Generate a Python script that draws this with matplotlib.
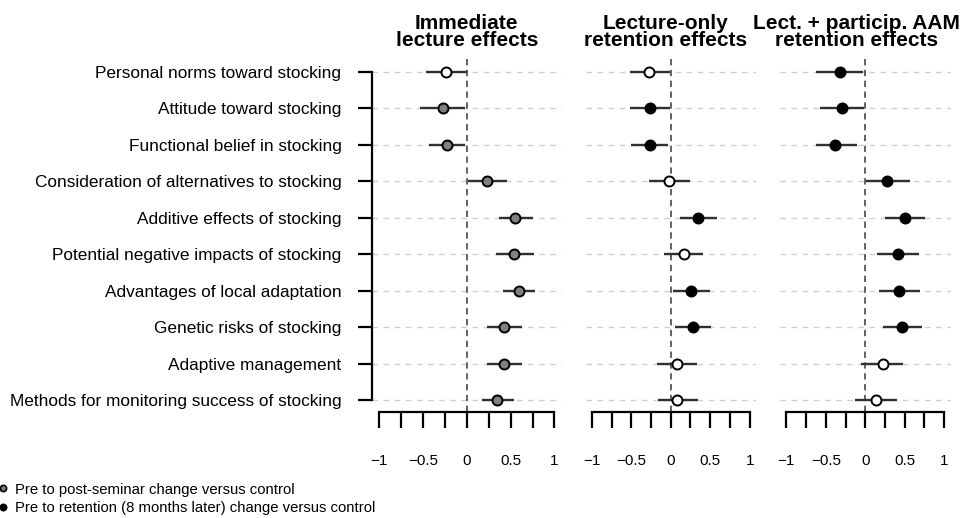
import matplotlib
matplotlib.use("Agg")
import matplotlib.pyplot as plt
from matplotlib.lines import Line2D

plt.rcParams['font.family'] = ['Liberation Sans', 'DejaVu Sans']

# row labels, top to bottom
items = [
    "Personal norms toward stocking",
    "Attitude toward stocking",
    "Functional belief in stocking",
    "Consideration of alternatives to stocking",
    "Additive effects of stocking",
    "Potential negative impacts of stocking",
    "Advantages of local adaptation",
    "Genetic risks of stocking",
    "Adaptive management",
    "Methods for monitoring success of stocking",
]

titles = [
    "Immediate\nlecture effects",
    "Lecture-only\nretention effects",
    "Lect. + particip. AAM\nretention effects",
]

# panel 1: immediate lecture effects
imm_est = [-0.24, -0.27, -0.22, 0.23, 0.55, 0.54, 0.59, 0.43, 0.43, 0.35]
imm_lo = [-0.47, -0.53, -0.43, 0.01, 0.37, 0.33, 0.41, 0.23, 0.23, 0.17]
imm_hi = [0.00, -0.02, -0.02, 0.46, 0.75, 0.77, 0.78, 0.63, 0.63, 0.54]
imm_sig = [0, 1, 1, 1, 1, 1, 1, 1, 1, 1]

# panel 2: lecture-only retention effects
lec_est = [-0.27, -0.26, -0.26, -0.02, 0.35, 0.17, 0.26, 0.28, 0.08, 0.08]
lec_lo = [-0.52, -0.52, -0.50, -0.28, 0.12, -0.08, 0.03, 0.05, -0.17, -0.16]
lec_hi = [-0.01, -0.01, -0.03, 0.24, 0.59, 0.41, 0.50, 0.51, 0.33, 0.34]
lec_sig = [0, 1, 1, 0, 1, 0, 1, 1, 0, 0]

# panel 3: lecture + participatory AAM retention effects
aam_est = [-0.32, -0.30, -0.38, 0.28, 0.50, 0.42, 0.43, 0.47, 0.22, 0.14]
aam_lo = [-0.62, -0.57, -0.62, 0.01, 0.25, 0.15, 0.18, 0.23, -0.05, -0.13]
aam_hi = [-0.03, -0.02, -0.11, 0.57, 0.76, 0.68, 0.69, 0.72, 0.48, 0.40]
aam_sig = [1, 1, 1, 1, 1, 1, 1, 1, 0, 0]

panels = [
    (imm_est, imm_lo, imm_hi, imm_sig, '#808080'),
    (lec_est, lec_lo, lec_hi, lec_sig, 'black'),
    (aam_est, aam_lo, aam_hi, aam_sig, 'black'),
]

xticks = [-1, -0.75, -0.5, -0.25, 0, 0.25, 0.5, 0.75, 1]
xticklabels = ['\u22121', '', '\u22120.5', '', '0', '', '0.5', '', '1']

W, H = 964, 518
fig = plt.figure(figsize=(W / 100, H / 100), dpi=100)

# axes boxes in pixels: left, right, title centre (axes fraction)
boxes = [(372, 561.5, 0.5), (585.5, 756, 0.47), (780, 950.5, 0.45)]
top_px, bot_px = 59, 412
rows = list(range(1, len(items) + 1))

for i, ((est, lo, hi, sig, fill), (l, r, tx)) in enumerate(zip(panels, boxes)):
    ax = fig.add_axes([l / W, 1 - bot_px / H, (r - l) / W, (bot_px - top_px) / H])
    ax.set_xlim(-1.08, 1.08)
    ax.set_ylim(10.33, 0.643)

    for y in rows:
        ax.axhline(y, color='#cfcfcf', lw=1.0, ls=(0, (4, 4)), zorder=0)
    ax.axvline(0, color='#555555', lw=1.3, ls=(0, (3.5, 2.5)), zorder=1)

    ax.hlines(rows, lo, hi, color='#303030', lw=1.7, zorder=2)
    for y, e, s in zip(rows, est, sig):
        ax.plot(e, y, 'o', ms=7.2, mew=1.4, mec='black',
                mfc=fill if s else 'white', zorder=3)

    for side in ['top', 'right']:
        ax.spines[side].set_visible(False)
    ax.spines['bottom'].set_bounds(-1, 1)
    ax.spines['bottom'].set_linewidth(1.6)
    ax.set_xticks(xticks)
    ax.set_xticklabels(xticklabels)
    ax.tick_params(axis='x', direction='out', length=11.5, width=1.6,
                   pad=19, labelsize=11)

    if i == 0:
        ax.spines['left'].set_bounds(1, 10)
        ax.spines['left'].set_linewidth(1.6)
        ax.set_yticks(rows)
        ax.set_yticklabels(items)
        ax.tick_params(axis='y', direction='out', length=10, width=1.6,
                       pad=12, labelsize=12.4)
    else:
        ax.spines['left'].set_visible(False)
        ax.set_yticks([])

    ax.set_title(titles[i], fontsize=15, fontweight='bold', pad=9,
                 linespacing=0.88, x=tx)

handles = [
    Line2D([], [], marker='o', ls='none', ms=4.5, mew=1.2, mec='black', mfc='#808080'),
    Line2D([], [], marker='o', ls='none', ms=4.5, mew=1.2, mec='black', mfc='black'),
]
labels = [
    "Pre to post-seminar change versus control",
    "Pre to retention (8 months later) change versus control",
]
fig.legend(handles, labels, loc='lower left', bbox_to_anchor=(-0.005, 0.0),
           frameon=False, fontsize=10.7, handlelength=0.7, handletextpad=0.45,
           borderaxespad=0, borderpad=0.2, labelspacing=0.3)

fig.savefig('out.png', dpi=100)
